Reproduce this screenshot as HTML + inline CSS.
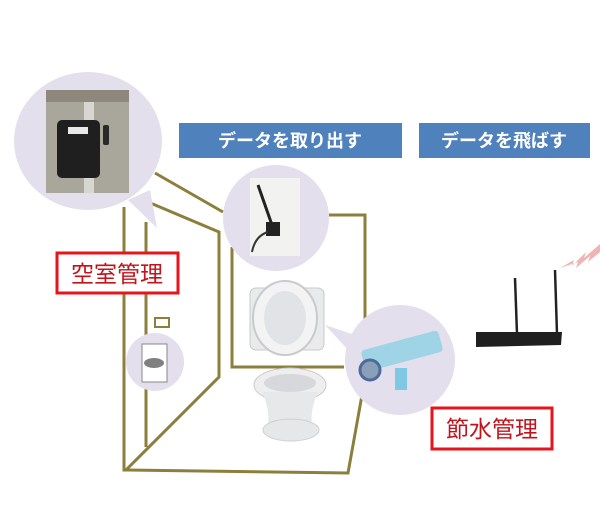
<!DOCTYPE html>
<html><head><meta charset="utf-8"><style>
html,body{margin:0;padding:0;background:#fff;}
body{width:600px;height:514px;overflow:hidden;font-family:"Liberation Sans","Noto Sans CJK JP",sans-serif;}
</style></head><body>
<svg width="600" height="514" viewBox="0 0 600 514" xmlns="http://www.w3.org/2000/svg">
<g stroke="#8c7f3c" stroke-width="3" fill="none" stroke-linejoin="miter">
<polyline points="124,207 124,470 348,473 362,395"/>
<polyline points="146,222 146,447"/>
<polyline points="155,173 223,212"/>
<polyline points="148,202 219,232 219,377 126,470"/>
<polyline points="232,247 232,367 344,367"/>
<polyline points="329,215 365,215 365,330"/>
</g>
<path d="M128,200 L157,228 L150,190 Z" fill="#e4dfec"/>
<ellipse cx="88" cy="141" rx="74" ry="69" fill="#e4dfec"/>
<rect x="46" y="90" width="83" height="103" fill="#a9a69b"/>
<rect x="46" y="90" width="83" height="12" fill="#8d887b"/>
<rect x="84" y="102" width="10" height="91" fill="#d8d6d0"/>
<rect x="57" y="120" width="43" height="58" rx="5" fill="#1f1f1f"/>
<rect x="68" y="127" width="20" height="7" fill="#e8e8e8"/>
<rect x="103" y="125" width="6" height="20" rx="2" fill="#2a2a2a"/>
<rect x="179" y="123" width="223" height="35" fill="#4f81bd"/>
<text x="290" y="147" text-anchor="middle" font-size="18" font-weight="bold" fill="#fff" font-family="Liberation Sans,Noto Sans CJK JP,sans-serif">データを取り出す</text>
<rect x="419" y="123" width="171" height="35" fill="#4f81bd"/>
<text x="504" y="147" text-anchor="middle" font-size="18" font-weight="bold" fill="#fff" font-family="Liberation Sans,Noto Sans CJK JP,sans-serif">データを飛ばす</text>
<circle cx="276" cy="218" r="53" fill="#e4dfec"/>
<rect x="250" y="178" width="50" height="78" fill="#f2f2f0"/>
<line x1="258" y1="185" x2="272" y2="225" stroke="#222" stroke-width="3"/>
<rect x="266" y="222" width="14" height="14" fill="#222"/>
<path d="M268,232 Q255,236 252,252" stroke="#333" stroke-width="2" fill="none"/>
<rect x="57" y="253" width="121" height="40" fill="#fff" stroke="#e8141c" stroke-width="3"/>
<text x="117" y="282" text-anchor="middle" font-size="23" fill="#c0141c" font-family="Liberation Sans,Noto Sans CJK JP,sans-serif">空室管理</text>
<rect x="432" y="408" width="120" height="41" fill="#fff" stroke="#e8141c" stroke-width="3"/>
<text x="492" y="437" text-anchor="middle" font-size="23" fill="#c0141c" font-family="Liberation Sans,Noto Sans CJK JP,sans-serif">節水管理</text>
<rect x="155" y="318" width="14" height="9" fill="#fff" stroke="#8c7f3c" stroke-width="2"/>
<circle cx="155" cy="362" r="29" fill="#e4dfec"/>
<rect x="142" y="344" width="25" height="38" fill="#fff" stroke="#888" stroke-width="1"/>
<ellipse cx="154" cy="363" rx="10" ry="5" fill="#808080"/>
<rect x="250" y="288" width="74" height="62" rx="6" fill="#e9eaec" stroke="#c8c9cc"/>
<ellipse cx="285" cy="318" rx="32" ry="37" fill="#f3f3f4" stroke="#c9cacd" stroke-width="2"/>
<ellipse cx="285" cy="318" rx="21" ry="27" fill="#e2e3e6"/>
<ellipse cx="290" cy="385" rx="36" ry="17" fill="#eeeeef" stroke="#c9cacd"/>
<ellipse cx="290" cy="383" rx="26" ry="9" fill="#d7d8db"/>
<path d="M262,392 Q270,410 268,425 L312,425 Q310,410 318,392 Z" fill="#e7e8ea"/>
<ellipse cx="291" cy="430" rx="28" ry="11" fill="#e6e7e9" stroke="#cfcfd2"/>
<path d="M325,325 L355,335 L350,352 Z" fill="#e4dfec"/>
<circle cx="400" cy="360" r="55" fill="#e4dfec"/>
<rect x="362" y="340" width="80" height="22" rx="4" fill="#9fd3e6" transform="rotate(-15 402 351)"/>
<circle cx="370" cy="370" r="10" fill="#8aa0b8" stroke="#4e6a9a" stroke-width="3"/>
<rect x="395" y="368" width="12" height="22" fill="#7fc8e4"/>
<line x1="515" y1="278" x2="517" y2="334" stroke="#222" stroke-width="2.5"/>
<line x1="555" y1="270" x2="557" y2="334" stroke="#222" stroke-width="2.5"/>
<path d="M476,332 L562,332 L561,345 L476,347 Z" fill="#1f1f1f"/>
<polygon points="560,268 574,260 572,266 586,252 584,258 600,244 600,252 588,262 590,256 576,268 578,262" fill="#f0b4b4"/>
</svg>
</body></html>
